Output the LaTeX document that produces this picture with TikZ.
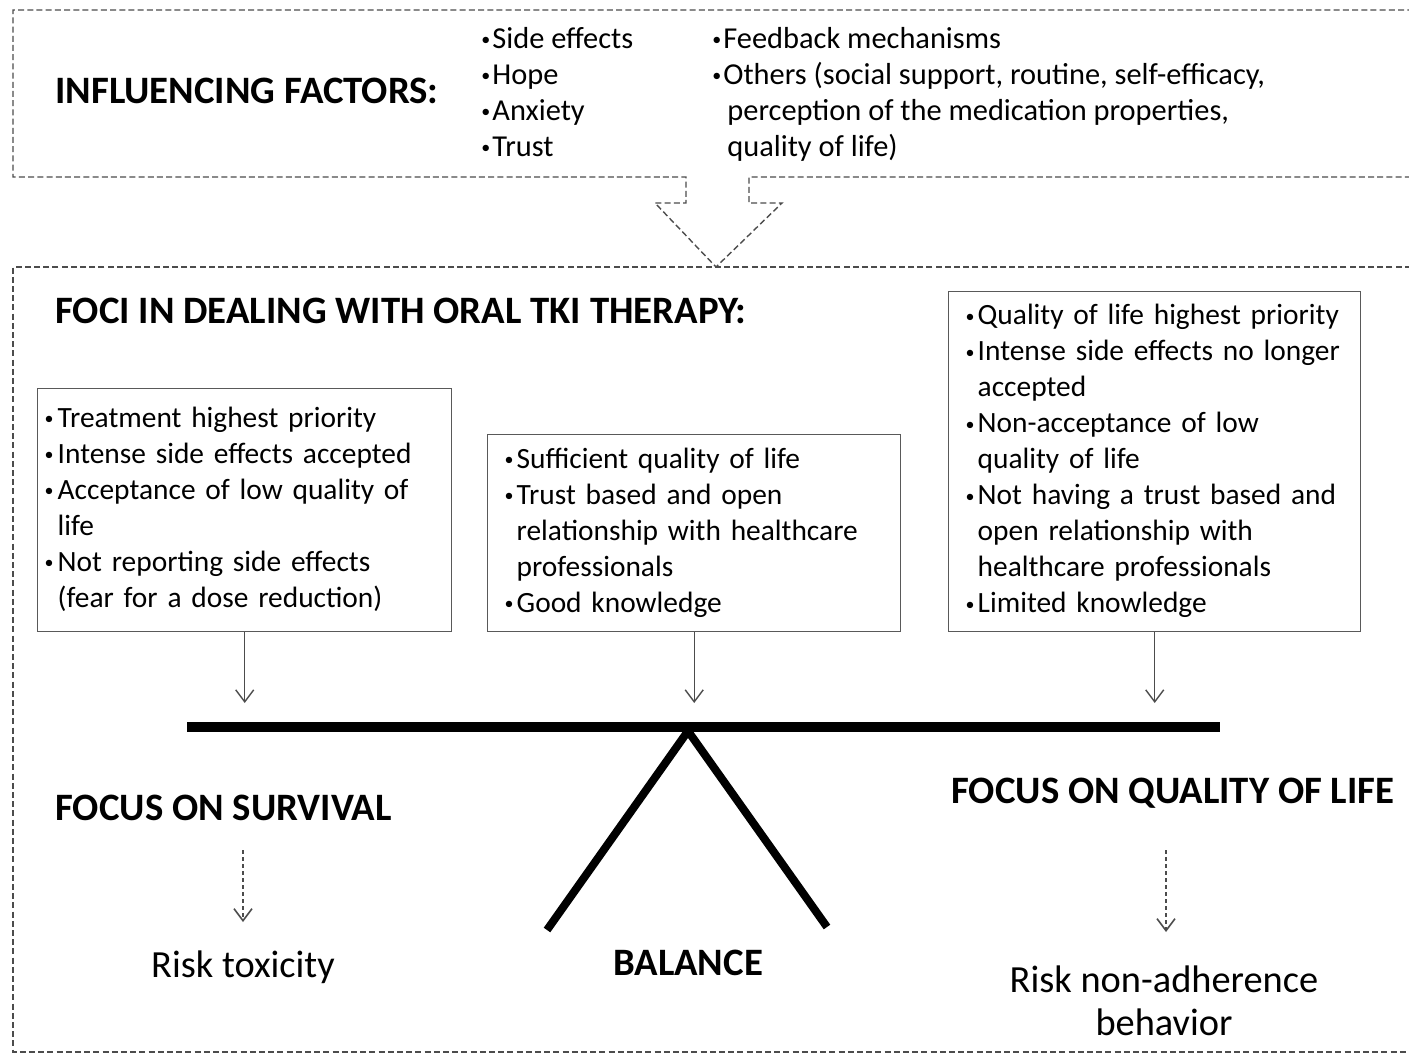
\documentclass[tikz,border=0pt]{standalone}
\usepackage{fontspec}
\setmainfont{Carlito}
\usetikzlibrary{arrows.meta}

% bullet list: optional vertical alignment, width of the bullet column
\newenvironment{bullets}[2][c]{\begin{tabular}[#1]{@{}p{#2}@{}l@{}}}{\end{tabular}}
\newcommand{\bul}{\raisebox{1.3pt}{\fontsize{9}{9}\selectfont •}}

\begin{document}
\begin{tikzpicture}[
    x=0.5pt, y=-0.5pt,
    >={Straight Barb[length=6pt,width=9pt]},
    font=\fontsize{14.7}{18}\selectfont,
    frame/.style={draw=black!70, line width=0.7pt, dash pattern=on 3pt off 1.6pt},
    listbox/.style={draw=black!65, line width=0.7pt, rectangle, align=left,
        anchor=north west, inner ysep=0pt},
    heading/.style={font=\fontsize{19.4}{23}\selectfont\bfseries, inner sep=0pt, anchor=west},
    outcome/.style={font=\fontsize{19.2}{21.5}\selectfont, align=center, inner sep=0pt},
    feed/.style={draw=black!70, line width=0.7pt, ->},
    hint/.style={draw=black!70, line width=0.8pt, dash pattern=on 2pt off 1.5pt, ->},
    beam/.style={line width=5pt},
    leg/.style={line width=4pt}
]
    \useasboundingbox (0,0) rectangle (1409,1055);
    \clip (0,0) rectangle (1409,1055);

    % Influencing factors frame, with its arrow
    \draw[frame] (1420,177) -- (749,177) -- (749,203) -- (782,203) -- (716,267)
        -- (655,203) -- (686,203) -- (686,177) -- (13,177) -- (13,10) -- (1420,10);
    \draw[frame] (1420,267) -- (13,267) -- (13,1052) -- (1420,1052);

    \node[heading] (factors) at (55,91) {INFLUENCING FACTORS:};
    \node[anchor=base west, inner sep=0pt, font=\fontsize{15.2}{18}\selectfont]
        (factlistA) at (481,48) {%
        \begin{bullets}[t]{5.5pt}
        \bul & Side effects\\
        \bul & Hope\\
        \bul & Anxiety\\
        \bul & Trust
        \end{bullets}};
    \node[anchor=base west, inner sep=0pt, font=\fontsize{15.2}{18}\selectfont]
        (factlistB) at (712,48) {%
        \begin{bullets}[t]{5.5pt}
        \bul & Feedback mechanisms\\
        \bul & Others (social support, routine, self-efficacy,\\
             & \hspace{2pt}perception of the medication properties,\\
             & \hspace{2pt}quality of life)
        \end{bullets}};

    % Foci
    \node[heading] (foci) at (55,311) {FOCI IN DEALING WITH ORAL TKI THERAPY:};

    \node[listbox, inner xsep=3.5pt, text width=200pt, minimum height=121.5pt]
        (survbox) at (37,388) {%
        \begin{bullets}{6.5pt}
        \bul & Treatment highest priority\\
        \bul & Intense side effects accepted\\
        \bul & Acceptance of low quality of\\
             & life\\
        \bul & Not reporting side effects\\
             & (fear for a dose reduction)
        \end{bullets}};
    \node[listbox, inner xsep=8.5pt, text width=189.5pt, minimum height=98.5pt]
        (balbox) at (487,434) {%
        \begin{bullets}{6pt}
        \bul & Sufficient quality of life\\
        \bul & Trust based and open\\
             & relationship with healthcare\\
             & professionals\\
        \bul & Good knowledge
        \end{bullets}};
    \node[listbox, inner xsep=8.5pt, text width=189pt, minimum height=170pt]
        (qolbox) at (948,291) {%
        \begin{bullets}{6pt}
        \bul & Quality of life highest priority\\
        \bul & Intense side effects no longer\\
             & accepted\\
        \bul & Non-acceptance of low\\
             & quality of life\\
        \bul & Not having a trust based and\\
             & open relationship with\\
             & healthcare professionals\\
        \bul & Limited knowledge
        \end{bullets}};

    % Balance
    \coordinate (tipy) at (0,703);
    \draw[feed] (survbox.south) -- (survbox.south |- tipy);
    \draw[feed] (balbox.south) -- (balbox.south |- tipy);
    \draw[feed] (qolbox.south) -- (qolbox.south |- tipy);

    \coordinate (beamL) at (187,727);
    \coordinate (beamR) at (1220,727);
    \coordinate (pivot) at (688,731);
    \coordinate (footL) at (547,930);
    \coordinate (footR) at (827,927);
    \draw[beam] (beamL) -- (beamR);
    \draw[leg] (footL) -- (pivot) -- (footR);

    \node[heading] (survival) at (55,808) {FOCUS ON SURVIVAL};
    \node[heading] (quality) at (951,793) {FOCUS ON QUALITY OF LIFE};
    \node[heading, anchor=center] (balance) at (688,963) {BALANCE};

    \coordinate (hintLtop) at (243,850);
    \coordinate (hintLend) at (243,922);
    \coordinate (hintRtop) at (1166,850);
    \coordinate (hintRend) at (1166,932);
    \draw[hint] (hintLtop) -- (hintLend);
    \draw[hint] (hintRtop) -- (hintRend);

    \node[outcome] (toxicity) at (243,967) {Risk toxicity};
    \node[outcome] (adherence) at (1164,1001) {Risk non-adherence\\behavior};

\end{tikzpicture}
\end{document}
